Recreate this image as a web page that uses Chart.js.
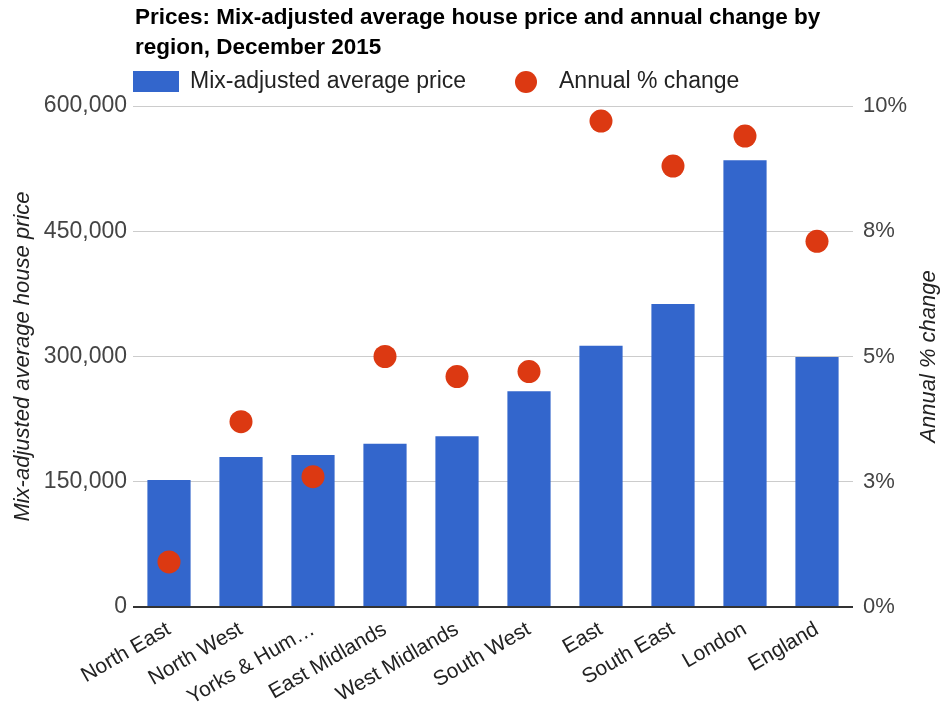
<!DOCTYPE html>
<html lang="en">
<head>
  <meta charset="UTF-8">
  <title>House prices by region</title>
  <style>
    body { margin: 0; background: #fff; }
    #wrap { width: 942px; height: 708px; }
  </style>
</head>
<body>
  <div id="wrap"><canvas id="priceChart" width="942" height="708"></canvas></div>
  <script src="https://cdn.jsdelivr.net/npm/chart.js"></script>
  <script>
    // data
    const regions = ['North East', 'North West', 'Yorks & Hum\u2026', 'East Midlands', 'West Midlands',
                     'South West', 'East', 'South East', 'London', 'England']
    const avgPrice = [152000, 179500, 182000, 195500, 204500, 258500, 313000, 363000, 535000, 299500]
    const annualChange = [0.9, 3.7, 2.6, 5.0, 4.6, 4.7, 9.7, 8.8, 9.4, 7.3]
    const priceTicks = [0, 150000, 300000, 450000, 600000]
    const changeTicks = [0, 2.5, 5, 7.5, 10]

    const titleLines = ['Prices: Mix-adjusted average house price and annual change by',
                        'region, December 2015']
    const rightTitle = 'Annual % change'
    const fontFam = '"Liberation Sans", Arial, sans-serif'

    // title, legend and right axis title drawn at the chart area edge like the original
    const decorations = {
      id: 'decorations',
      afterDraw(chart) {
        const ctx = chart.ctx
        const area = chart.chartArea
        ctx.save()
        ctx.fillStyle = '#000'
        ctx.font = 'bold 22.5px ' + fontFam
        ctx.textBaseline = 'middle'
        ctx.fillText(titleLines[0], area.left + 2, 18)
        ctx.fillText(titleLines[1], area.left + 2, 48)

        // legend: bars first, then points
        const bars = chart.data.datasets.find(d => d.type === 'bar')
        const dots = chart.data.datasets.find(d => d.type === 'line')
        ctx.font = '23px ' + fontFam
        ctx.fillStyle = bars.backgroundColor
        ctx.fillRect(area.left, 71, 46, 21)
        ctx.fillStyle = '#222'
        ctx.fillText(bars.label, area.left + 57, 82)
        ctx.beginPath()
        ctx.fillStyle = dots.backgroundColor
        ctx.arc(526, 82, 11, 0, Math.PI * 2)
        ctx.fill()
        ctx.fillStyle = '#222'
        ctx.fillText(dots.label, 559, 82)

        // right axis title, reading bottom to top
        ctx.translate(929, (area.top + area.bottom) / 2)
        ctx.rotate(-Math.PI / 2)
        ctx.textAlign = 'center'
        ctx.font = 'italic 22px ' + fontFam
        ctx.fillStyle = '#222'
        ctx.fillText(rightTitle, 0, 0)
        ctx.restore()
      }
    }

    new Chart(document.getElementById('priceChart'), {
      data: {
        labels: regions,
        datasets: [{
          type: 'line',
          label: 'Annual % change',
          data: annualChange,
          yAxisID: 'y1',
          showLine: false,
          pointRadius: 11.5,
          pointHoverRadius: 11.5,
          borderWidth: 0,
          backgroundColor: '#dc3912',
          borderColor: '#dc3912',
          order: 0
        }, {
          type: 'bar',
          label: 'Mix-adjusted average price',
          data: avgPrice,
          yAxisID: 'y',
          backgroundColor: '#3366cc',
          barPercentage: 0.6,
          categoryPercentage: 1,
          order: 1
        }]
      },
      plugins: [decorations],
      options: {
        responsive: false,
        animation: false,
        layout: { padding: { top: 106, left: 0, right: 0, bottom: 0 } },
        plugins: {
          legend: { display: false },
          tooltip: { enabled: false }
        },
        scales: {
          x: {
            grid: { display: false },
            border: { display: false },
            ticks: {
              minRotation: 30,
              maxRotation: 30,
              color: '#222',
              padding: 2,
              font: { family: fontFam, size: 21 }
            },
            afterFit(scale) { scale.height = 101 }
          },
          y: {
            position: 'left',
            min: 0,
            max: 600000,
            afterBuildTicks(scale) { scale.ticks = priceTicks.map(v => ({ value: v })) },
            grid: {
              drawTicks: false,
              color: c => c.tick && c.tick.value === 0 ? '#333' : '#ccc',
              lineWidth: c => c.tick && c.tick.value === 0 ? 2 : 1
            },
            border: { display: false },
            ticks: {
              color: '#444',
              padding: 6,
              font: { family: fontFam, size: 23 },
              callback: v => v.toLocaleString('en-US')
            },
            title: {
              display: true,
              text: 'Mix-adjusted average house price',
              color: '#222',
              padding: { top: 10, bottom: 0 },
              font: { family: fontFam, size: 22, style: 'italic' }
            },
            afterFit(scale) { scale.width = 133 }
          },
          y1: {
            position: 'right',
            min: 0,
            max: 10,
            afterBuildTicks(scale) { scale.ticks = changeTicks.map(v => ({ value: v })) },
            grid: { display: false },
            border: { display: false },
            ticks: {
              color: '#444',
              padding: 2,
              font: { family: fontFam, size: 22 },
              callback: v => Math.round(v) + '%'
            },
            afterFit(scale) { scale.width = 89 }
          }
        }
      }
    })
  </script>
</body>
</html>
